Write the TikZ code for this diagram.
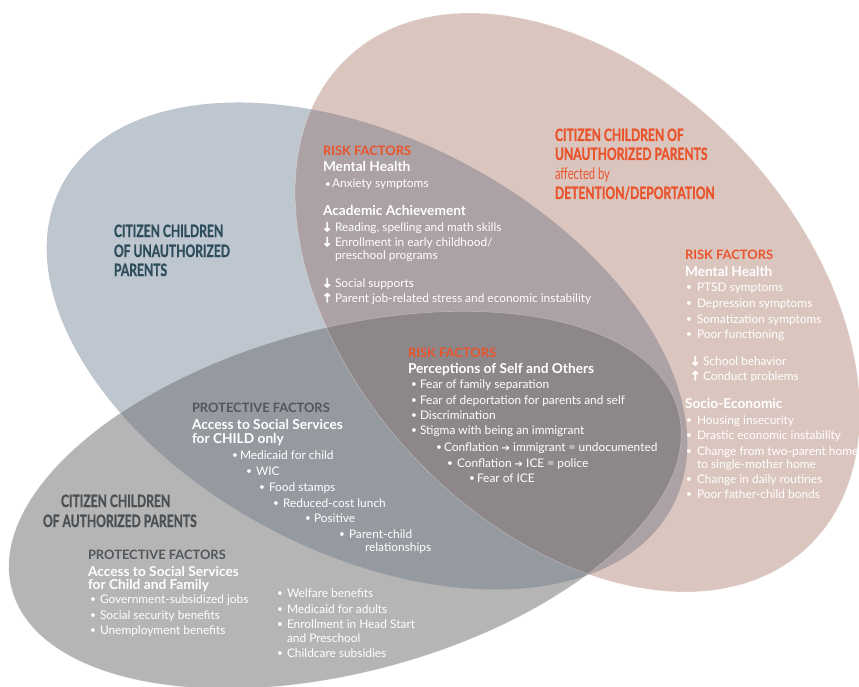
\documentclass[tikz,border=0pt]{standalone}
\usepackage{fontspec}
\setmainfont{Lato}
\newfontfamily\condf[FakeStretch=0.7]{Lato}
\newfontfamily\condbf[FakeStretch=0.71,FakeBold=0.9]{Lato}
\newfontfamily\arrf[FakeBold=3]{DejaVu Sans}
\newfontfamily\symf{DejaVu Sans}
\definecolor{cA}{HTML}{BEC6CF}
\definecolor{cB}{HTML}{DBC6BF}
\definecolor{cC}{HTML}{B5B5B5}
\definecolor{cAB}{HTML}{ACA1A4}
\definecolor{cAC}{HTML}{959AA0}
\definecolor{cBC}{HTML}{AA9E9B}
\definecolor{cABC}{HTML}{8E878A}
\definecolor{teal}{HTML}{2E4D5B}
\definecolor{dgray}{HTML}{4B5054}
\definecolor{pgray}{HTML}{51575C}
\definecolor{orangec}{HTML}{E9542C}
\newcommand\bodyf{\fontsize{11.9}{14}\selectfont}
\newcommand\headf{\fontsize{13.7}{15}\selectfont\bfseries}
\newcommand\capf{\fontsize{12.9}{15}\selectfont\bfseries}
\newcommand\ttlf{\condbf\bfseries\fontsize{17}{19}\selectfont}
\newcommand\bul[1]{\makebox[#1][l]{\raisebox{0.3pt}{\fontsize{10}{12}\selectfont•}}}
\newcommand\dn{\makebox[13pt][l]{\raisebox{-0.3pt}{\arrf\bfseries\fontsize{12.5}{12}\selectfont ↓}}}
\newcommand\up{\makebox[13pt][l]{\raisebox{-0.3pt}{\arrf\bfseries\fontsize{12.5}{12}\selectfont ↑}}}
\newcommand\ra{{\symf\bfseries\fontsize{10}{12}\selectfont ➔}}
\tikzset{
  ellA/.style={rotate around={-27.7:(367,346)}},
  ellB/.style={rotate around={-46.85:(577.5,302.5)}},
  ellC/.style={rotate around={15:(345,500)}},
  bs/.style={anchor=base west, inner sep=0pt, outer sep=0pt},
  wt/.style={bs, text=white, font=\bodyf},
  hd/.style={bs, text=white, font=\headf},
  rf/.style={bs, text=orangec, font=\capf},
  pf/.style={bs, text=pgray, font=\capf},
  ttl/.style={bs, font=\ttlf},
  edge/.style={draw=white, draw opacity=0.3, line width=0.6pt}
}
\begin{document}
\begin{tikzpicture}[x=1pt,y=-1pt]
\useasboundingbox (0,0) rectangle (859,687);
% base ellipses
\path[ellA, fill=cA] (367,346) ellipse [x radius=345, y radius=207];
\path[ellB, fill=cB] (577.5,302.5) ellipse [x radius=336, y radius=225];
\path[ellC, fill=cC] (345,500) ellipse [x radius=345, y radius=172];
% pairwise overlaps
\begin{scope}
  \clip[ellA] (367,346) ellipse [x radius=345, y radius=207];
  \path[ellB, fill=cAB] (577.5,302.5) ellipse [x radius=336, y radius=225];
  \path[ellC, fill=cAC] (345,500) ellipse [x radius=345, y radius=172];
\end{scope}
\begin{scope}
  \clip[ellB] (577.5,302.5) ellipse [x radius=336, y radius=225];
  \path[ellC, fill=cBC] (345,500) ellipse [x radius=345, y radius=172];
\end{scope}
\begin{scope}
  \clip[ellA] (367,346) ellipse [x radius=345, y radius=207];
  \clip[ellB] (577.5,302.5) ellipse [x radius=336, y radius=225];
  \path[ellC, fill=cABC] (345,500) ellipse [x radius=345, y radius=172];
\end{scope}
\path[ellB, edge] (577.5,302.5) ellipse [x radius=336, y radius=225];
\path[ellC, edge] (345,500) ellipse [x radius=345, y radius=172];

% titles
\node[ttl, text=teal] (ta1) at (114,237) {CITIZEN CHILDREN};
\node[ttl, text=teal] (ta2) at (114,257) {OF UNAUTHORIZED};
\node[ttl, text=teal] (ta3) at (114,276) {PARENTS};
\node[ttl, text=dgray] (tc1) at (61,507) {CITIZEN CHILDREN};
\node[ttl, text=dgray] (tc2) at (43,527) {OF AUTHORIZED PARENTS};
\node[ttl, text=orangec] (tb1) at (555,141) {CITIZEN CHILDREN OF};
\node[ttl, text=orangec] (tb2) at (555,160) {UNAUTHORIZED PARENTS};
\node[bs, text=orangec, font={\condf\fontsize{16}{18}\selectfont}] (tb3) at (555,180) {affected by};
\node[ttl, text=orangec] (tb4) at (555,199) {DETENTION/DEPORTATION};

% A-B block
\node[rf] (ab1) at (323,156) {RISK FACTORS};
\node[hd] (ab2) at (323,172) {Mental Health};
\node[wt] (ab3) at (325,188) {\bul{7pt}Anxiety symptoms};
\node[hd] (ab4) at (323,215) {Academic Achievement};
\node[wt] (ab5) at (322,231) {\dn Reading, spelling and math skills};
\node[wt] (ab6) at (322,246) {\dn Enrollment in early childhood/};
\node[wt] (ab7) at (335,259.5) {preschool programs};
\node[wt] (ab8) at (322,287) {\dn Social supports};
\node[wt] (ab9) at (322,302) {\up Parent job-related stress and economic instability};

% B block
\node[rf] (b1) at (685,259) {RISK FACTORS};
\node[hd] (b2) at (685,276) {Mental Health};
\node[wt] (b3) at (686,291) {\bul{11pt}PTSD symptoms};
\node[wt] (b4) at (686,307) {\bul{11pt}Depression symptoms};
\node[wt] (b5) at (686,323) {\bul{11pt}Somatization symptoms};
\node[wt] (b6) at (686,338) {\bul{11pt}Poor functioning};
\node[wt] (b7) at (690,365) {\dn School behavior};
\node[wt] (b8) at (690,380) {\up Conduct problems};
\node[hd] (b9) at (685,408) {Socio-Economic};
\node[wt] (b10) at (686,424) {\bul{11pt}Housing insecurity};
\node[wt] (b11) at (686,439) {\bul{11pt}Drastic economic instability};
\node[wt] (b12) at (686,455) {\bul{11pt}Change from two-parent home};
\node[wt] (b13) at (697,468) {to single-mother home};
\node[wt] (b14) at (686,483) {\bul{11pt}Change in daily routines};
\node[wt] (b15) at (686,498) {\bul{11pt}Poor father-child bonds};

% A-B-C block
\node[rf] (abc1) at (408,357) {RISK FACTORS};
\node[hd] (abc2) at (408,373) {Perceptions of Self and Others};
\node[wt] (abc3) at (411,388) {\bul{9pt}Fear of family separation};
\node[wt] (abc4) at (411,404) {\bul{9pt}Fear of deportation for parents and self};
\node[wt] (abc5) at (411,419) {\bul{9pt}Discrimination};
\node[wt] (abc6) at (411,434) {\bul{9pt}Stigma with being an immigrant};
\node[wt] (abc7) at (436,451) {\bul{8pt}Conflation \ra{} immigrant = undocumented};
\node[wt] (abc8) at (447,467) {\bul{10pt}Conflation \ra{} ICE = police};
\node[wt] (abc9) at (469,482) {\bul{8pt}Fear of ICE};

% A-C block
\node[pf] (ac1) at (192,412) {PROTECTIVE FACTORS};
\node[hd] (ac2) at (192,429) {Access to Social Services};
\node[hd] (ac3) at (192,443) {for CHILD only};
\node[wt] (ac4) at (232,459) {\bul{8pt}Medicaid for child};
\node[wt] (ac5) at (246,475) {\bul{10pt}WIC};
\node[wt] (ac6) at (259,491) {\bul{10pt}Food stamps};
\node[wt] (ac7) at (273,507) {\bul{10pt}Reduced-cost lunch};
\node[wt] (ac8) at (305,522) {\bul{9pt}Positive};
\node[wt] (ac9) at (339,538) {\bul{10pt}Parent-child};
\node[wt] (ac10) at (365,551) {relationships};

% C block
\node[pf] (c1) at (88,559) {PROTECTIVE FACTORS};
\node[hd] (c2) at (88,576) {Access to Social Services};
\node[hd] (c3) at (88,589) {for Child and Family};
\node[wt] (c4) at (90,603) {\bul{10pt}Government-subsidized jobs};
\node[wt] (c5) at (90,619) {\bul{10pt}Social security benefits};
\node[wt] (c6) at (90,634) {\bul{10pt}Unemployment benefits};
\node[wt] (c7) at (277,597) {\bul{10pt}Welfare benefits};
\node[wt] (c8) at (277,613) {\bul{10pt}Medicaid for adults};
\node[wt] (c9) at (277,628) {\bul{10pt}Enrollment in Head Start};
\node[wt] (c10) at (287,642) {and Preschool};
\node[wt] (c11) at (277,657) {\bul{10pt}Childcare subsidies};
\end{tikzpicture}
\end{document}
